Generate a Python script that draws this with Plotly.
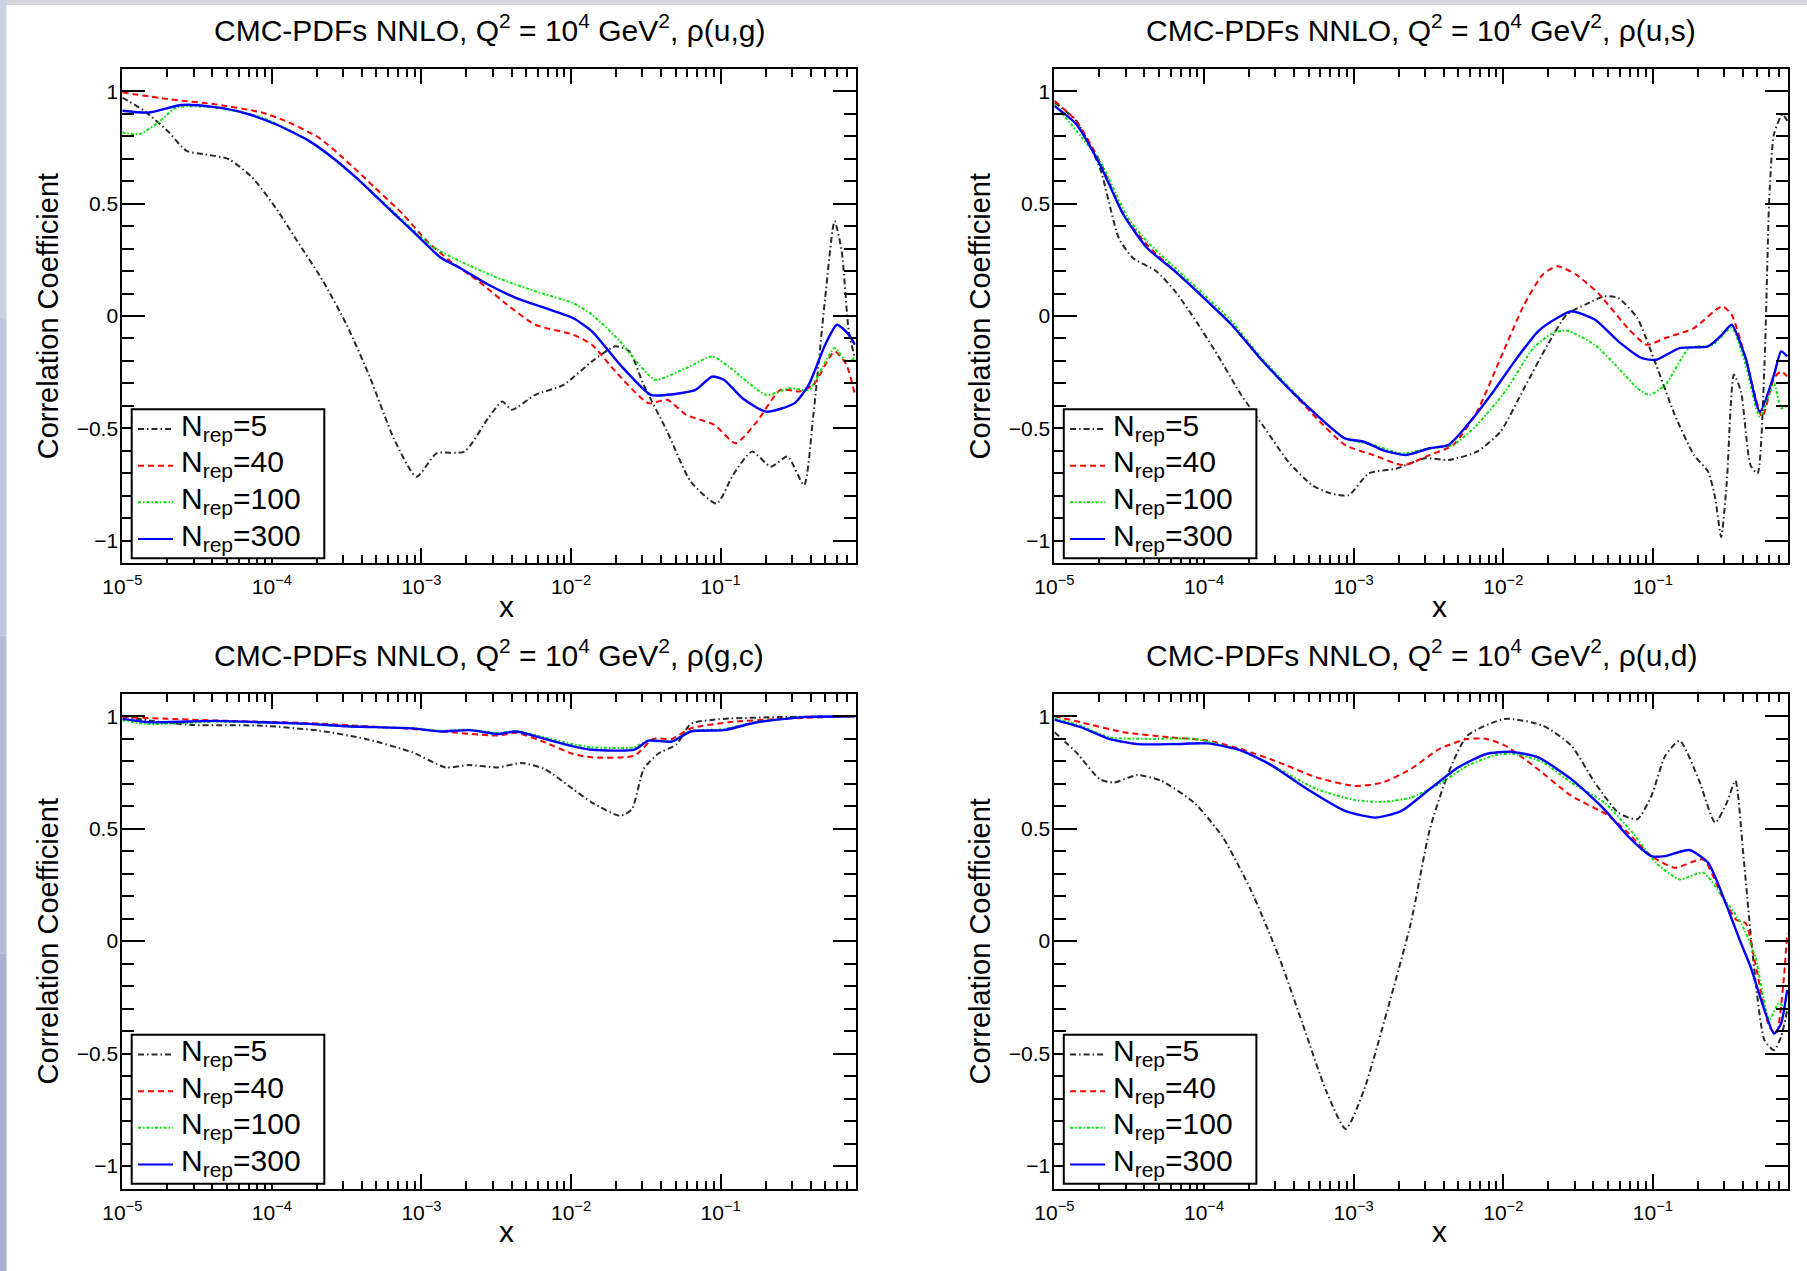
import math
import plotly.graph_objects as go

# ---------------- data ----------------
LABELS = ["N<sub>rep</sub>=5", "N<sub>rep</sub>=40", "N<sub>rep</sub>=100", "N<sub>rep</sub>=300"]
TITLES = ["ρ(u,g)", "ρ(u,s)", "ρ(g,c)", "ρ(u,d)"]

# panel 1: rho(u,g)
ug_n5_x = [1.0e-5, 1.40e-5, 2.01e-5, 2.69e-5, 3.59e-5, 5.16e-5, 7.41e-5, 1.06e-4, 1.53e-4, 2.20e-4, 3.16e-4, 4.55e-4, 6.53e-4, 9.26e-4, 1.26e-3, 1.94e-3, 2.79e-3, 3.47e-3, 4.01e-3, 5.77e-3, 8.91e-3, 1.38e-2, 1.98e-2, 2.46e-2, 3.06e-2, 4.40e-2, 6.32e-2, 9.42e-2, 0.121, 0.162, 0.217, 0.280, 0.361, 0.417, 0.500, 0.578, 0.645, 0.719, 0.790]
ug_n5_y = [0.973, 0.914, 0.824, 0.735, 0.72, 0.698, 0.616, 0.482, 0.318, 0.155, -0.039, -0.277, -0.545, -0.716, -0.612, -0.604, -0.455, -0.381, -0.418, -0.351, -0.307, -0.202, -0.135, -0.158, -0.307, -0.515, -0.738, -0.835, -0.708, -0.604, -0.671, -0.626, -0.753, -0.44, 0.08, 0.423, 0.289, -0.068, -0.188]
ug_n40_x = [1.0e-5, 2.01e-5, 4.15e-5, 8.57e-5, 1.23e-4, 2.05e-4, 3.16e-4, 4.89e-4, 7.56e-4, 1.09e-3, 1.56e-3, 2.41e-3, 3.73e-3, 5.77e-3, 1.03e-2, 1.38e-2, 1.98e-2, 3.29e-2, 4.40e-2, 5.88e-2, 9.09e-2, 0.126, 0.175, 0.251, 0.336, 0.417, 0.578, 0.693, 0.790]
ug_n40_y = [0.996, 0.966, 0.943, 0.906, 0.869, 0.795, 0.69, 0.571, 0.452, 0.333, 0.244, 0.155, 0.051, -0.039, -0.083, -0.128, -0.247, -0.388, -0.373, -0.44, -0.485, -0.567, -0.47, -0.329, -0.336, -0.307, -0.158, -0.217, -0.351]
ug_n100_x = [1.0e-5, 1.30e-5, 1.74e-5, 2.32e-5, 4.15e-5, 8.57e-5, 1.77e-4, 3.66e-4, 7.56e-4, 1.17e-3, 1.81e-3, 3.23e-3, 5.77e-3, 1.03e-2, 1.38e-2, 2.13e-2, 2.85e-2, 3.67e-2, 5.88e-2, 8.77e-2, 0.113, 0.202, 0.290, 0.388, 0.483, 0.578, 0.693, 0.790]
ug_n100_y = [0.817, 0.81, 0.862, 0.929, 0.929, 0.884, 0.78, 0.616, 0.423, 0.311, 0.244, 0.17, 0.11, 0.058, 0.006, -0.113, -0.217, -0.284, -0.232, -0.18, -0.225, -0.351, -0.321, -0.329, -0.225, -0.143, -0.202, -0.188]
ug_n300_x = [1.0e-5, 1.50e-5, 2.50e-5, 4.15e-5, 6.41e-5, 1.06e-4, 1.77e-4, 2.55e-4, 3.66e-4, 5.65e-4, 8.74e-4, 1.35e-3, 1.81e-3, 2.79e-3, 4.31e-3, 6.67e-3, 1.03e-2, 1.38e-2, 2.13e-2, 3.41e-2, 4.40e-2, 6.80e-2, 8.77e-2, 0.105, 0.140, 0.202, 0.312, 0.388, 0.500, 0.600, 0.719, 0.790]
ug_n300_y = [0.914, 0.906, 0.94, 0.93, 0.906, 0.854, 0.78, 0.705, 0.616, 0.497, 0.378, 0.259, 0.214, 0.14, 0.08, 0.036, -0.009, -0.068, -0.217, -0.351, -0.351, -0.329, -0.27, -0.284, -0.366, -0.426, -0.388, -0.307, -0.128, -0.039, -0.083, -0.128]

# panel 2: rho(u,s)
us_n5_x = [1.0e-5, 1.40e-5, 2.01e-5, 2.69e-5, 3.34e-5, 4.80e-5, 6.41e-5, 8.57e-5, 1.23e-4, 1.77e-4, 2.55e-4, 3.66e-4, 5.26e-4, 7.03e-4, 9.26e-4, 1.26e-3, 1.94e-3, 3.00e-3, 4.31e-3, 6.67e-3, 9.58e-3, 1.38e-2, 1.98e-2, 2.65e-2, 3.54e-2, 4.73e-2, 5.88e-2, 7.86e-2, 0.105, 0.140, 0.188, 0.234, 0.261, 0.286, 0.312, 0.348, 0.388, 0.449, 0.500, 0.557, 0.600, 0.645, 0.735, 0.790]
us_n5_y = [0.951, 0.869, 0.661, 0.348, 0.259, 0.199, 0.11, -0.009, -0.173, -0.351, -0.5, -0.649, -0.753, -0.79, -0.798, -0.701, -0.679, -0.634, -0.641, -0.604, -0.515, -0.321, -0.128, 0.006, 0.051, 0.088, 0.08, -0.009, -0.217, -0.44, -0.619, -0.693, -0.812, -0.984, -0.738, -0.262, -0.336, -0.664, -0.701, -0.217, 0.527, 0.81, 0.899, 0.869]
us_n40_x = [1.0e-5, 1.40e-5, 2.01e-5, 2.89e-5, 4.15e-5, 6.41e-5, 1.0e-4, 1.53e-4, 2.37e-4, 3.66e-4, 5.65e-4, 8.74e-4, 1.35e-3, 2.16e-3, 3.23e-3, 4.64e-3, 6.67e-3, 9.58e-3, 1.38e-2, 1.84e-2, 2.29e-2, 3.06e-2, 4.40e-2, 6.80e-2, 9.09e-2, 0.121, 0.188, 0.290, 0.336, 0.417, 0.538, 0.645, 0.719, 0.790]
us_n40_y = [0.958, 0.869, 0.69, 0.452, 0.318, 0.199, 0.08, -0.039, -0.188, -0.321, -0.455, -0.574, -0.619, -0.664, -0.619, -0.574, -0.426, -0.188, 0.051, 0.185, 0.222, 0.185, 0.095, -0.054, -0.128, -0.098, -0.054, 0.043, 0.006, -0.188, -0.448, -0.277, -0.247, -0.269]
us_n100_x = [1.0e-5, 2.01e-5, 3.10e-5, 4.15e-5, 6.41e-5, 1.0e-4, 1.53e-4, 2.37e-4, 3.66e-4, 5.65e-4, 8.74e-4, 1.35e-3, 2.09e-3, 3.23e-3, 4.64e-3, 6.67e-3, 1.03e-2, 1.59e-2, 2.13e-2, 2.65e-2, 4.09e-2, 5.88e-2, 7.86e-2, 9.42e-2, 0.121, 0.175, 0.251, 0.336, 0.417, 0.519, 0.645, 0.719, 0.790]
us_n100_y = [0.943, 0.69, 0.437, 0.333, 0.214, 0.095, -0.024, -0.18, -0.314, -0.44, -0.545, -0.574, -0.612, -0.589, -0.574, -0.485, -0.336, -0.143, -0.076, -0.065, -0.128, -0.232, -0.321, -0.351, -0.307, -0.143, -0.128, -0.054, -0.217, -0.448, -0.30, -0.41, -0.40]
us_n300_x = [1.0e-5, 1.40e-5, 2.01e-5, 2.89e-5, 4.15e-5, 6.41e-5, 1.0e-4, 1.53e-4, 2.37e-4, 3.66e-4, 5.65e-4, 8.74e-4, 1.17e-3, 1.56e-3, 2.24e-3, 3.23e-3, 4.31e-3, 5.77e-3, 8.28e-3, 1.19e-2, 1.71e-2, 2.29e-2, 2.85e-2, 4.09e-2, 5.88e-2, 8.45e-2, 0.105, 0.151, 0.234, 0.290, 0.336, 0.417, 0.519, 0.645, 0.719, 0.790]
us_n300_y = [0.936, 0.854, 0.676, 0.452, 0.304, 0.199, 0.08, -0.039, -0.188, -0.321, -0.44, -0.545, -0.56, -0.597, -0.619, -0.589, -0.574, -0.485, -0.351, -0.202, -0.068, -0.009, 0.021, -0.016, -0.113, -0.188, -0.195, -0.143, -0.135, -0.083, -0.039, -0.188, -0.426, -0.262, -0.158, -0.18]

# panel 3: rho(g,c)
gc_n5_x = [1.0e-5, 1.50e-5, 2.89e-5, 8.57e-5, 2.05e-4, 4.23e-4, 8.74e-4, 1.45e-3, 2.09e-3, 3.23e-3, 4.64e-3, 6.67e-3, 1.03e-2, 1.38e-2, 2.13e-2, 2.55e-2, 3.06e-2, 3.80e-2, 5.09e-2, 6.32e-2, 0.105, 0.251, 0.790]
gc_n5_y = [1.0, 0.981, 0.961, 0.958, 0.936, 0.899, 0.839, 0.772, 0.783, 0.772, 0.792, 0.765, 0.676, 0.616, 0.557, 0.586, 0.765, 0.832, 0.876, 0.966, 0.988, 0.996, 1.0]
gc_n40_x = [1.0e-5, 4.15e-5, 1.77e-4, 8.74e-4, 3.23e-3, 4.31e-3, 6.67e-3, 1.03e-2, 1.38e-2, 2.65e-2, 3.54e-2, 4.73e-2, 6.32e-2, 0.113, 0.251, 0.790]
gc_n40_y = [0.996, 0.981, 0.969, 0.943, 0.914, 0.926, 0.884, 0.832, 0.817, 0.824, 0.899, 0.899, 0.946, 0.973, 0.988, 1.0]
gc_n100_x = [1.0e-5, 1.50e-5, 4.15e-5, 8.57e-5, 1.77e-4, 3.16e-4, 8.74e-4, 1.35e-3, 2.09e-3, 3.23e-3, 4.31e-3, 6.67e-3, 1.03e-2, 1.38e-2, 2.65e-2, 3.29e-2, 4.73e-2, 6.32e-2, 0.105, 0.175, 0.361, 0.790]
gc_n100_y = [0.982, 0.965, 0.975, 0.972, 0.966, 0.955, 0.947, 0.935, 0.94, 0.925, 0.934, 0.905, 0.875, 0.862, 0.862, 0.893, 0.89, 0.935, 0.942, 0.975, 0.996, 1.0]
gc_n300_x = [1.0e-5, 1.50e-5, 4.15e-5, 8.57e-5, 1.77e-4, 3.16e-4, 8.74e-4, 1.35e-3, 2.09e-3, 3.23e-3, 4.31e-3, 6.67e-3, 1.03e-2, 1.38e-2, 2.65e-2, 3.29e-2, 4.73e-2, 6.32e-2, 0.105, 0.175, 0.361, 0.790]
gc_n300_y = [0.988, 0.973, 0.979, 0.973, 0.966, 0.955, 0.946, 0.932, 0.938, 0.921, 0.932, 0.899, 0.866, 0.851, 0.851, 0.891, 0.887, 0.932, 0.938, 0.973, 0.996, 1.0]

# panel 4: rho(u,d)
ud_n5_x = [1.0e-5, 1.40e-5, 2.01e-5, 2.50e-5, 3.59e-5, 5.16e-5, 8.57e-5, 1.32e-4, 2.05e-4, 3.16e-4, 4.55e-4, 6.53e-4, 8.86e-4, 1.17e-3, 1.68e-3, 2.41e-3, 3.23e-3, 4.31e-3, 5.77e-3, 1.03e-2, 1.84e-2, 2.85e-2, 4.09e-2, 5.88e-2, 7.86e-2, 9.77e-2, 0.121, 0.151, 0.202, 0.261, 0.312, 0.356, 0.403, 0.466, 0.557, 0.645, 0.719, 0.790]
ud_n5_y = [0.929, 0.839, 0.72, 0.705, 0.738, 0.713, 0.616, 0.467, 0.229, -0.068, -0.366, -0.664, -0.835, -0.664, -0.307, 0.08, 0.497, 0.75, 0.914, 0.988, 0.958, 0.869, 0.705, 0.571, 0.542, 0.646, 0.824, 0.891, 0.72, 0.527, 0.616, 0.713, 0.378, -0.068, -0.44, -0.485, -0.426, -0.307]
ud_n40_x = [1.0e-5, 1.50e-5, 2.89e-5, 5.96e-5, 1.06e-4, 1.77e-4, 3.16e-4, 5.65e-4, 1.01e-3, 1.56e-3, 2.41e-3, 3.73e-3, 5.77e-3, 7.71e-3, 1.03e-2, 1.59e-2, 2.85e-2, 5.09e-2, 6.80e-2, 9.77e-2, 0.140, 0.217, 0.290, 0.361, 0.417, 0.483, 0.600, 0.668, 0.745, 0.790]
ud_n40_y = [1.0, 0.973, 0.929, 0.906, 0.891, 0.854, 0.795, 0.728, 0.69, 0.705, 0.765, 0.854, 0.899, 0.899, 0.869, 0.78, 0.646, 0.557, 0.482, 0.378, 0.326, 0.363, 0.199, 0.095, 0.08, -0.098, -0.381, -0.411, -0.188, 0.036]
ud_n100_x = [1.0e-5, 1.50e-5, 2.32e-5, 4.15e-5, 8.57e-5, 1.77e-4, 3.16e-4, 5.65e-4, 1.01e-3, 1.56e-3, 2.41e-3, 3.73e-3, 5.77e-3, 8.91e-3, 1.19e-2, 1.84e-2, 2.85e-2, 4.73e-2, 7.31e-2, 0.105, 0.151, 0.217, 0.290, 0.388, 0.483, 0.600, 0.693, 0.790]
ud_n100_y = [0.991, 0.958, 0.906, 0.899, 0.899, 0.847, 0.765, 0.676, 0.628, 0.619, 0.638, 0.698, 0.78, 0.827, 0.832, 0.795, 0.705, 0.616, 0.482, 0.348, 0.274, 0.304, 0.199, 0.08, -0.068, -0.351, -0.277, -0.307]
ud_n300_x = [1.0e-5, 1.50e-5, 2.32e-5, 3.59e-5, 6.41e-5, 1.06e-4, 1.77e-4, 2.74e-4, 4.89e-4, 8.74e-4, 1.40e-3, 2.09e-3, 3.23e-3, 4.99e-3, 7.71e-3, 1.11e-2, 1.71e-2, 2.85e-2, 4.73e-2, 6.80e-2, 9.77e-2, 0.121, 0.175, 0.234, 0.312, 0.388, 0.449, 0.557, 0.645, 0.719, 0.790]
ud_n300_y = [0.985, 0.951, 0.899, 0.876, 0.876, 0.879, 0.847, 0.787, 0.676, 0.579, 0.549, 0.579, 0.676, 0.772, 0.832, 0.842, 0.817, 0.72, 0.586, 0.467, 0.378, 0.378, 0.405, 0.348, 0.155, -0.009, -0.113, -0.307, -0.411, -0.366, -0.217]

X_TICKS = [1e-5, 1e-4, 1e-3, 1e-2, 1e-1]
X_TICKTEXT = ["10<sup>−5</sup>", "10<sup>−4</sup>", "10<sup>−3</sup>", "10<sup>−2</sup>", "10<sup>−1</sup>"]
Y_TICKS = [-1, -0.5, 0, 0.5, 1]
Y_TICKTEXT = ["−1", "−0.5", "0", "0.5", "1"]
X_MAX = 0.8

PANELS = [
    [(ug_n5_x, ug_n5_y), (ug_n40_x, ug_n40_y), (ug_n100_x, ug_n100_y), (ug_n300_x, ug_n300_y)],
    [(us_n5_x, us_n5_y), (us_n40_x, us_n40_y), (us_n100_x, us_n100_y), (us_n300_x, us_n300_y)],
    [(gc_n5_x, gc_n5_y), (gc_n40_x, gc_n40_y), (gc_n100_x, gc_n100_y), (gc_n300_x, gc_n300_y)],
    [(ud_n5_x, ud_n5_y), (ud_n40_x, ud_n40_y), (ud_n100_x, ud_n100_y), (ud_n300_x, ud_n300_y)],
]

# ---------------- styling / layout ----------------
W, H = 1807, 1271
FONT = "Liberation Sans, Arial, Helvetica, sans-serif"
STYLES = [
    dict(color="#2a2a2a", width=2, dash="6px,3px,1.5px,3px"),
    dict(color="#ff0000", width=2, dash="6px,4px"),
    dict(color="#00e600", width=2, dash="3px,2px,1.5px,2px"),
    dict(color="#0000ff", width=2.4, dash="solid"),
]

# panel pixel boxes: (left, right, top, bottom)
BOXES = [(122.3, 855.7, 69.0, 563.0), (1054.4, 1788.0, 69.0, 563.0),
         (122.3, 855.7, 693.7, 1188.5), (1054.4, 1788.0, 693.7, 1188.5)]


def px(xp):
    return xp / W


def py(yp):
    return 1 - yp / H


fig = go.Figure()
minor_x = [k * 10.0 ** d for d in range(-5, 0) for k in range(2, 10) if k * 10.0 ** d < X_MAX * 0.999]

for p, series in enumerate(PANELS):
    sfx = "" if p == 0 else str(p + 1)
    for s, (xs, ys) in enumerate(series):
        fig.add_trace(go.Scatter(
            x=xs, y=ys, mode="lines", name=LABELS[s],
            line=dict(shape="spline", smoothing=0.6, **STYLES[s]),
            xaxis="x" + sfx, yaxis="y" + sfx,
            showlegend=False, hoverinfo="skip"))

layout = dict(width=W, height=H, margin=dict(l=0, r=0, t=0, b=0, autoexpand=False),
              paper_bgcolor="white", plot_bgcolor="white",
              font=dict(family=FONT, color="black"), showlegend=False)

annotations = []
shapes = []
for p, (l, r, t, b) in enumerate(BOXES):
    sfx = "" if p == 0 else str(p + 1)
    layout["xaxis" + sfx] = dict(
        type="log", range=[-5, math.log10(X_MAX)], domain=[px(l), px(r)], anchor="y" + sfx,
        showline=True, linecolor="black", linewidth=2, mirror="allticks",
        ticks="inside", ticklen=15, tickwidth=2, tickcolor="black",
        tickmode="array", tickvals=X_TICKS, ticktext=X_TICKTEXT,
        tickfont=dict(size=21, family=FONT), showgrid=False, zeroline=False,
        automargin=False, ticklabelstandoff=4,
        minor=dict(tickmode="array", tickvals=minor_x, ticks="inside", ticklen=8,
                   tickwidth=2, tickcolor="black", showgrid=False))
    layout["yaxis" + sfx] = dict(
        range=[-1.1, 1.1], domain=[py(b), py(t)], anchor="x" + sfx,
        showline=True, linecolor="black", linewidth=2, mirror="allticks",
        ticks="inside", ticklen=23, tickwidth=2, tickcolor="black",
        tickmode="array", tickvals=Y_TICKS, ticktext=Y_TICKTEXT,
        tickfont=dict(size=21, family=FONT), showgrid=False, zeroline=False,
        automargin=False, ticklabelstandoff=-2,
        minor=dict(dtick=0.1, ticks="inside", ticklen=12, tickwidth=2,
                   tickcolor="black", showgrid=False))
    # title
    annotations.append(dict(
        text="CMC-PDFs NNLO, Q<sup>2</sup> = 10<sup>4</sup> GeV<sup>2</sup>, " + TITLES[p],
        x=px((l + r) / 2), y=py(t - 41), xref="paper", yref="paper",
        xanchor="center", yanchor="middle", showarrow=False,
        font=dict(size=30, family=FONT, color="black")))
    # y title
    annotations.append(dict(
        text="Correlation Coefficient", textangle=-90,
        x=px(l - 74), y=py((t + b) / 2), xref="paper", yref="paper",
        xanchor="center", yanchor="middle", showarrow=False,
        font=dict(size=29, family=FONT, color="black")))
    # x title
    annotations.append(dict(
        text="x", x=px((l + r) / 2 + 18), y=py(b + 43),
        xref="paper", yref="paper", xanchor="center", yanchor="middle",
        showarrow=False, font=dict(size=30, family=FONT, color="black")))

    # legend box (drawn like the ROOT legend)
    bx0, bx1 = l + 9.4, l + 202.0
    by0, by1 = b - 153.7, b - 4.7
    shapes.append(dict(type="rect", xref="paper", yref="paper",
                       x0=px(bx0), x1=px(bx1), y0=py(by1), y1=py(by0),
                       fillcolor="white", line=dict(color="black", width=2), layer="above"))
    for s in range(4):
        ly = b - 134.0 + s * 36.67
        st = STYLES[s]
        shapes.append(dict(type="line", xref="paper", yref="paper",
                           x0=px(bx0 + 6.3), x1=px(bx0 + 41.3), y0=py(ly), y1=py(ly),
                           line=dict(color=st["color"], width=2, dash=st["dash"]),
                           layer="above"))
        annotations.append(dict(
            text=LABELS[s], x=px(bx0 + 47), y=py(ly - 2), xref="paper", yref="paper",
            xanchor="left", yanchor="middle", showarrow=False,
            font=dict(size=30, family=FONT, color="black")))

# page border strips seen in the reference
shapes.append(dict(type="rect", xref="paper", yref="paper", x0=0, x1=1,
                   y0=py(5), y1=1, fillcolor="#d6d6dc", line=dict(width=0), layer="below"))
strip_cols = ["#cdcfe2", "#c3c5dd", "#b8bbd7", "#adb0d1"]
for i, c in enumerate(strip_cols):
    shapes.append(dict(type="rect", xref="paper", yref="paper", x0=0, x1=px(6.5),
                       y0=1 - (i + 1) / 4, y1=1 - i / 4, fillcolor=c,
                       line=dict(width=0), layer="below"))

layout["annotations"] = annotations
layout["shapes"] = shapes
fig.update_layout(**layout)
fig.write_html(
    "out.html",
    post_script="document.body.style.margin='0';document.body.style.padding='0';"
                "document.documentElement.style.overflow='hidden';",
)
